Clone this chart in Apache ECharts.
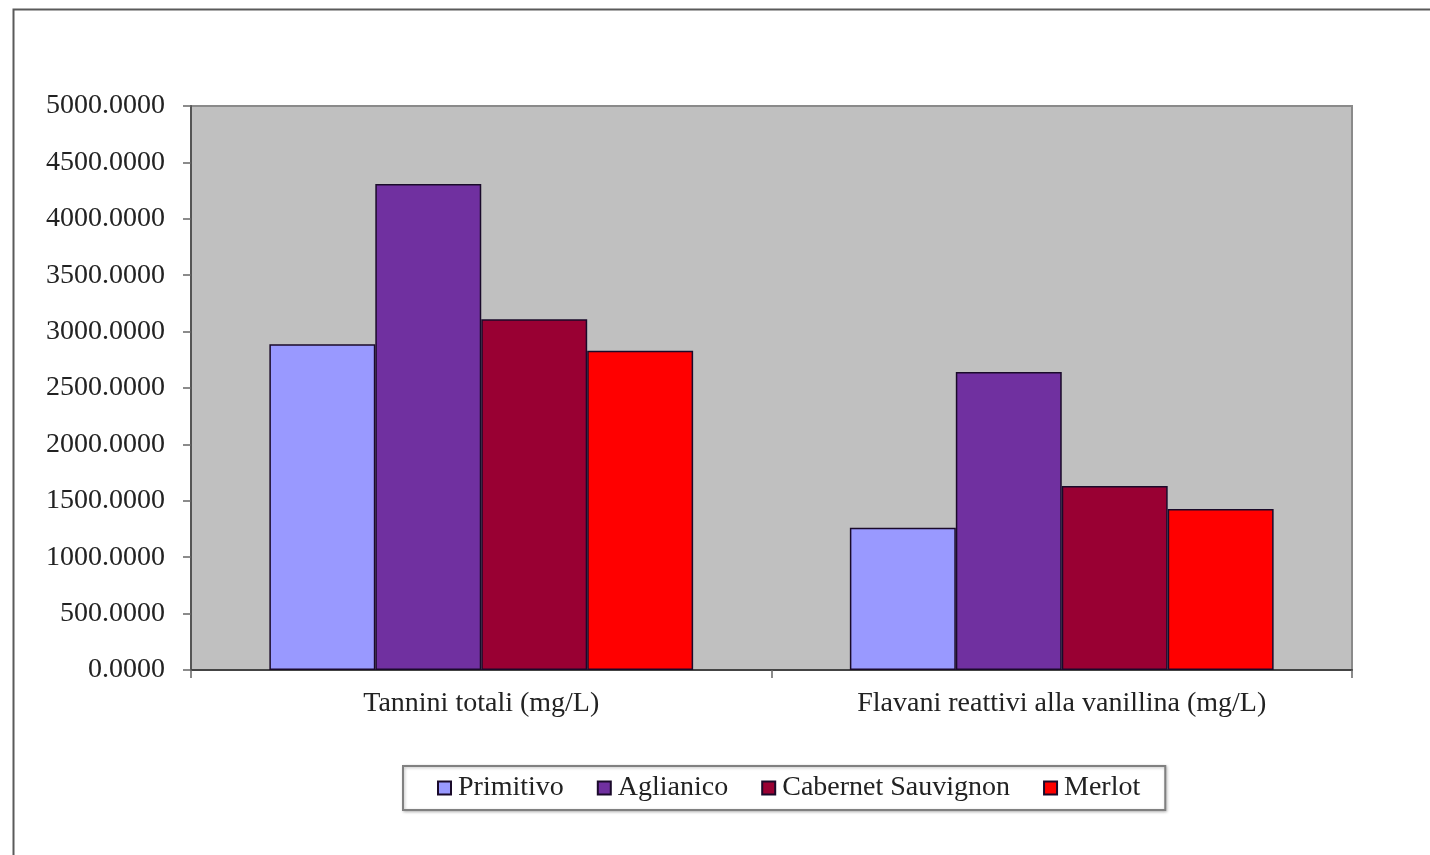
<!DOCTYPE html>
<html>
<head>
<meta charset="utf-8">
<script src="https://cdn.jsdelivr.net/npm/echarts@6/dist/echarts.min.js"></script>
<style>
  html, body { margin: 0; padding: 0; background: #ffffff; }
  #chart { width: 1430px; height: 855px; }
</style>
</head>
<body>
<div id="chart"></div>
<script>
// Categories on the x axis
const categories = ['Tannini totali (mg/L)', 'Flavani reattivi alla vanillina (mg/L)'];

// Values per grape variety (mg/L)
const primitivo = [2887, 1262];
const aglianico = [4309, 2642];
const cabernetSauvignon = [3109, 1631];
const merlot = [2831, 1427];

const seriesNames = ['Primitivo', 'Aglianico', 'Cabernet Sauvignon', 'Merlot'];
const seriesColors = ['#9999FF', '#7030A0', '#990033', '#FF0000'];
const seriesValues = [primitivo, aglianico, cabernetSauvignon, merlot];

const FONT = '"Liberation Serif", "DejaVu Serif", serif';

const chart = echarts.init(document.getElementById('chart'), null, { renderer: 'canvas' });

chart.setOption({
  animation: false,
  backgroundColor: '#ffffff',
  textStyle: { fontFamily: FONT },
  graphic: [
    {
      type: 'rect',
      left: 11, top: 7,
      shape: { width: 1440, height: 900 },
      style: { fill: 'none', stroke: '#5a5a5a', lineWidth: 2 },
      silent: true
    }
  ],
  grid: {
    left: 191, top: 106, right: 78, bottom: 185,
    show: true,
    backgroundColor: '#C0C0C0',
    borderColor: '#8a8a8a',
    borderWidth: 2
  },
  legend: {
    bottom: 45,
    left: 403,
    padding: [8, 25, 8, 34],
    itemGap: 33,
    itemWidth: 13,
    itemHeight: 13,
    borderColor: '#808080',
    borderWidth: 2,
    backgroundColor: '#ffffff',
    shadowColor: 'rgba(0,0,0,0.25)',
    shadowBlur: 3,
    shadowOffsetX: 1,
    shadowOffsetY: 1,
    textStyle: { fontFamily: FONT, fontSize: 28, color: '#222', padding: [0, 0, 0, 2] },
    data: seriesNames.map(n => ({ name: n, icon: 'rect' }))
  },
  xAxis: {
    type: 'category',
    data: categories,
    axisLine: { lineStyle: { color: '#444', width: 2 } },
    axisTick: { show: true, length: 8, lineStyle: { color: '#666', width: 1.5 }, alignWithLabel: false },
    axisLabel: { fontFamily: FONT, fontSize: 28, color: '#222', margin: 20 },
    splitLine: { show: false }
  },
  yAxis: {
    type: 'value',
    min: 0, max: 5000, interval: 500,
    axisLine: { show: true, lineStyle: { color: '#555', width: 2 } },
    axisTick: { show: true, length: 8, lineStyle: { color: '#666', width: 1.5 } },
    axisLabel: {
      fontFamily: FONT, fontSize: 28, color: '#222', margin: 26,
      formatter: v => v.toFixed(4)
    },
    splitLine: { show: false }
  },
  series: seriesNames.map((name, i) => ({
    name,
    type: 'bar',
    data: seriesValues[i],
    barGap: '0%',
    barCategoryGap: '27%',
    itemStyle: { color: seriesColors[i], borderColor: '#1a0a2a', borderWidth: 1.5 }
  }))
});
</script>
</body>
</html>
